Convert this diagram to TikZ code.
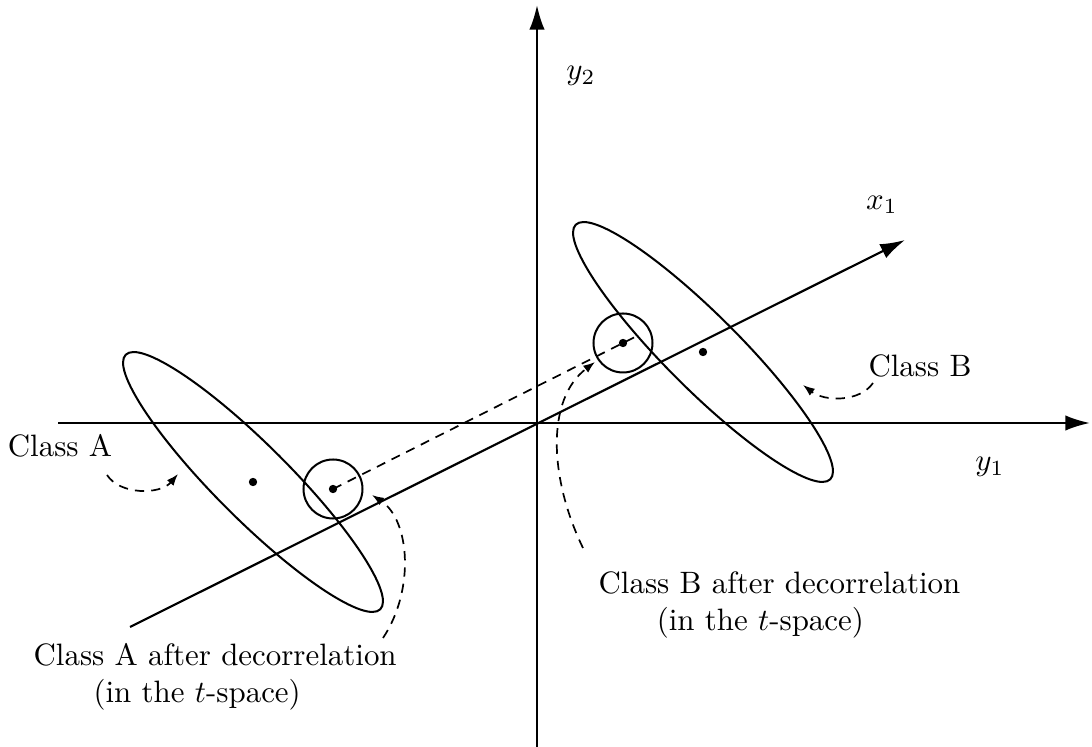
\documentclass[tikz,border=0pt]{standalone}
\usetikzlibrary{arrows.meta,calc}
\begin{document}
\begin{tikzpicture}[x=0.3234pt,y=-0.3234pt,
  axis/.style={line width=0.7pt,-{Latex[length=8pt,width=5pt]}},
  curve/.style={line width=0.65pt},
  dashline/.style={line width=0.55pt,dash pattern=on 3pt off 2.3pt},
  dasharrow/.style={line width=0.55pt,dash pattern=on 3pt off 2.3pt,-{Latex[length=3.8pt,width=2.8pt]}},
  dot/.style={circle,fill,inner sep=0pt,minimum size=2.7pt},
  lbl/.style={inner sep=0pt}]
\useasboundingbox (0,0) rectangle (1092,747);
% axes
\coordinate (y1s) at (58,423);
\coordinate (y1e) at (1090,423);
\coordinate (y2s) at (537,747);
\coordinate (y2e) at (537,5);
\coordinate (x1s) at (130,627);
\coordinate (x1e) at (905,240);
\draw[axis] (y1s) -- (y1e);
\draw[axis] (y2s) -- (y2e);
\draw[axis] (x1s) -- (x1e);
% ellipses
\draw[curve,shift={(253,482)},rotate=-45] (0,0) ellipse [x radius=180,y radius=37];
\draw[curve,shift={(703,352)},rotate=-45] (0,0) ellipse [x radius=180,y radius=37];
% means
\node[dot] (ma) at (253,482) {};
\node[dot] (mb) at (703,352) {};
\node[dot] (ta) at (333,489) {};
\node[dot] (tb) at (623,343) {};
\draw[curve] (ta) circle [radius=29.5];
\draw[curve] (tb) circle [radius=29.5];
\draw[dashline] (ta.center) -- ($(ta.center)!1.055!(tb.center)$);
% axis labels
\node[lbl] (ly2) at (581,76) {$y_2$};
\node[lbl] (lx1) at (882,205) {$x_1$};
\node[lbl] (ly1) at (990,467) {$y_1$};
% class labels
\node[lbl] (lA) at (60,446) {Class A};
\node[lbl] (lB) at (920,366) {Class B};
\node[lbl,anchor=north west,align=left] (lAt) at (33,643) {Class A after decorrelation\\\hspace{19.4pt}(in the $t$-space)};
\node[lbl,anchor=north west,align=left] (lBt) at (598,571) {Class B after decorrelation\\\hspace{18.8pt}(in the $t$-space)};
% arrow end points
\coordinate (aA1) at (107,475);
\coordinate (aA2) at (178,474);
\coordinate (aB1) at (873,383);
\coordinate (aB2) at (803,385);
\coordinate (aAt1) at (383,638);
\coordinate (aAt2) at (372,495);
\coordinate (aBt1) at (583,548);
\coordinate (aBt2) at (595,362);
\draw[dasharrow] (aA1) .. controls (120,495) and (160,495) .. (aA2);
\draw[dasharrow] (aB1) .. controls (860,402) and (825,402) .. (aB2);
\draw[dasharrow] (aAt1) .. controls (415,590) and (410,520) .. (aAt2);
\draw[dasharrow] (aBt1) .. controls (550,480) and (545,400) .. (aBt2);
\end{tikzpicture}
\end{document}
